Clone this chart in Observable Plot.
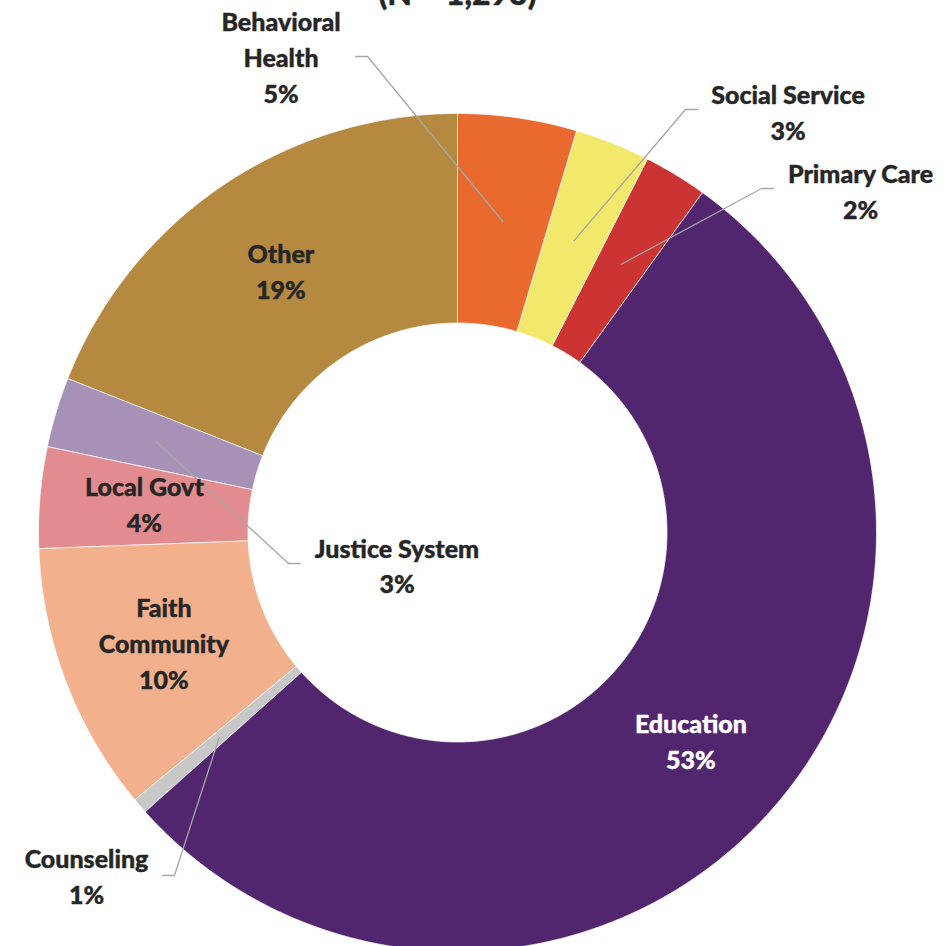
<!DOCTYPE html>
<html><head><meta charset="utf-8">
<script src="https://cdn.jsdelivr.net/npm/d3@7"></script>
<script src="https://cdn.jsdelivr.net/npm/@observablehq/plot@0.6"></script>
<style>body{margin:0;background:#fff;overflow:hidden}</style>
</head><body><div id="chart"></div>
<script>
// ---- data ----
const categories = ["Behavioral Health","Social Service","Primary Care","Education","Counseling","Faith Community","Local Govt","Justice System","Other"];
const labelNames = ["Behavioral\nHealth","Social Service","Primary Care","Education","Counseling","Faith\nCommunity","Local Govt","Justice System","Other"];
const values = [4.6, 2.9, 2.45, 53.45, 0.6, 10.4, 3.9, 2.7, 19.0];
const title = "(N = 1,293)";

// ---- styles / layout (separate from data) ----
const colors = ["#E86A2F","#F2E86B","#CB3432","#52266E","#C8C8C8","#F2B08D","#E38C90","#A791B6","#B5893F"];
const textColors = ["#262626","#262626","#262626","#FFFFFF","#262626","#262626","#262626","#262626","#262626"];
const innerRadius = 0.5;   // outer radius = 1
// outside (callout) labels: label centre and leader-line end, in radius units from the centre
const callouts = {
  "Behavioral Health": {lx: -0.4212, ly: 1.1313, ex: -0.2434, ey: 1.1360},
  "Social Service":    {lx: 0.7888,  ly: 1.0012, ex: 0.5728,  ey: 1.0095},
  "Primary Care":      {lx: 0.9618,  ly: 0.8115, ex: 0.7542,  ey: 0.8210},
  "Justice System":    {lx: -0.1444, ly: -0.0823, ex: -0.3747, ey: -0.0740},
  "Counseling":        {lx: -0.8854, ly: -0.8222, ex: -0.7041, ey: -0.8186}
};
const elbow = 0.0286;

// ---- geometry from data ----
const total = d3.sum(values);
let acc = 0;
const slices = categories.map((c, i) => {
  const a0 = acc / total; acc += values[i]; const a1 = acc / total;
  return {category: c, a0, a1, mid: (a0 + a1) / 2, i};
});
const pol = (frac, r) => ({x: r * Math.sin(frac * 2 * Math.PI), y: r * Math.cos(frac * 2 * Math.PI)});

const slicePts = [];
for (const s of slices) {
  const n = Math.max(2, Math.ceil((s.a1 - s.a0) * 720));
  for (let k = 0; k <= n; k++) slicePts.push({category: s.category, ...pol(s.a0 + (s.a1 - s.a0) * k / n, 1)});
  for (let k = n; k >= 0; k--) slicePts.push({category: s.category, ...pol(s.a0 + (s.a1 - s.a0) * k / n, innerRadius)});
}

const midR = (1 + innerRadius) / 2;
const leaderPts = [];
const labels = [];
for (const s of slices) {
  const pct = Math.round(values[s.i]) + "%";
  const text = labelNames[s.i] + "\n" + pct;
  const co = callouts[s.category];
  if (co) {
    const p = pol(s.mid, midR);
    const dir = Math.sign(p.x - co.ex);
    leaderPts.push({category: s.category, x: p.x, y: p.y});
    leaderPts.push({category: s.category, x: co.ex + dir * elbow, y: co.ey});
    leaderPts.push({category: s.category, x: co.ex, y: co.ey});
    labels.push({x: co.lx, y: co.ly, text, color: textColors[s.i]});
  } else {
    const p = pol(s.mid, midR);
    labels.push({x: p.x, y: p.y, text, color: textColors[s.i]});
  }
}

const font = "Lato, 'Open Sans', sans-serif";
const chart = Plot.plot({
  width: 945, height: 946, margin: 0,
  x: {domain: [-457/419, 488/419], axis: null},
  y: {domain: [-414/419, 532/419], axis: null},
  color: {domain: categories, range: colors},
  style: {fontFamily: font, background: "white"},
  marks: [
    Plot.line(slicePts, {x: "x", y: "y", z: "category", fill: "category", stroke: "white", strokeWidth: 0.7, curve: "linear-closed"}),
    Plot.line(leaderPts, {x: "x", y: "y", z: "category", stroke: "#A6A6A6", strokeWidth: 1.3}),
    Plot.text(labels, {x: "x", y: "y", text: "text", fill: "color", stroke: "color", strokeWidth: 0.4, fontSize: 25, fontWeight: 900, lineHeight: 1.44, dy: -3, fontFamily: font}),
    Plot.text([title], {x: [0], y: [1.283], text: d => d, fill: "#262626", stroke: "#262626", strokeWidth: 0.4, fontSize: 32, fontWeight: 900, fontFamily: font})
  ]
});
document.getElementById("chart").appendChild(chart);
</script>
</body></html>
